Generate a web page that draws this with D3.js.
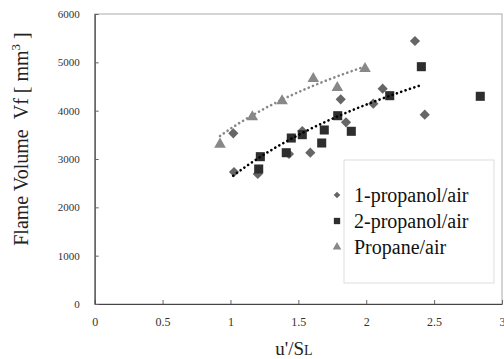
<!DOCTYPE html>
<html><head><meta charset="utf-8">
<script src="https://cdn.jsdelivr.net/npm/d3@7"></script>
<style>body{margin:0;background:#fff}svg{display:block}
svg text{font-family:"Liberation Serif","DejaVu Serif","Times New Roman",serif !important;}</style>
</head><body>
<svg id="c" width="504" height="359"></svg>
<script>
// Data
const propanol1X = [2.359, 2.121, 1.812, 2.052, 2.431, 1.851, 1.529, 1.021, 1.588, 1.431, 1.026, 1.201];
const propanol1Y = [5441, 4455, 4235, 4144, 3917, 3759, 3579, 3532, 3131, 3103, 2731, 2690];
const propanol2X = [2.406, 2.840, 2.173, 1.790, 1.691, 1.890, 1.448, 1.529, 1.672, 1.411, 1.220, 1.208];
const propanol2Y = [4910, 4297, 4310, 3896, 3600, 3573, 3434, 3503, 3331, 3130, 3048, 2793];
const propaneX = [1.991, 1.610, 1.787, 1.380, 1.161, 0.923];
const propaneY = [4889, 4682, 4496, 4221, 3890, 3325];
// logarithmic trend lines y = a + b ln(x), over [xmin, xmax]
const propanolTrend = [2610, 2186, 1.02, 2.41];
const propaneTrend = [3625, 1870, 0.923, 1.98];
const xTicks = [0, 0.5, 1, 1.5, 2, 2.5, 3];
const xTickLabels = ["0", "0.5", "1", "1.5", "2", "2.5", "3"];
const yTicks = [0, 1000, 2000, 3000, 4000, 5000, 6000];
const legendLabels = ["1-propanol/air", "2-propanol/air", "Propane/air"];

const svg = d3.select("#c");
const x = d3.scaleLinear().domain([0, 3]).range([94.7, 502]);
const y = d3.scaleLinear().domain([0, 6000]).range([304, 14]);

// frame
svg.append("rect").attr("x", x(0)).attr("y", y(6000))
  .attr("width", x(3) - x(0)).attr("height", y(0) - y(6000))
  .attr("fill", "none").attr("stroke", "#aaa").attr("stroke-width", 1);

// axes
const gx = svg.append("g").attr("transform", `translate(0,${y(0)})`)
  .call(d3.axisBottom(x).tickValues(xTicks).tickFormat((d, i) => xTickLabels[i]).tickSizeInner(-4).tickSizeOuter(0).tickPadding(13));
const gy = svg.append("g").attr("transform", `translate(${x(0)},0)`)
  .call(d3.axisLeft(y).tickValues(yTicks).tickFormat(d3.format("d")).tickSizeInner(-4).tickSizeOuter(0).tickPadding(15));
[gx, gy].forEach(g => {
  g.attr("font-family", null);
  g.select(".domain").attr("stroke", "#444").attr("stroke-width", 1.2);
  g.selectAll(".tick line").attr("stroke", "#666");
  g.selectAll("text").attr("font-size", 11).attr("fill", "#333");
});
gx.selectAll("text").attr("font-size", 12);

// trend lines
function trend(p) {
  const xs = d3.range(0, 41).map(i => p[2] + (p[3] - p[2]) * i / 40);
  return xs.map(v => [v, p[0] + p[1] * Math.log(v)]);
}
const line = d3.line().x(d => x(d[0])).y(d => y(d[1])).curve(d3.curveMonotoneX);
svg.append("path").attr("d", line(trend(propaneTrend)))
  .attr("fill", "none").attr("stroke", "#888").attr("stroke-width", 2.6)
  .attr("stroke-dasharray", "0.1 4.5").attr("stroke-linecap", "round");

// markers
const diamond = d3.symbol().type(d3.symbolSquare).size(52);
const square = d3.symbol().type(d3.symbolSquare).size(82);
const tri = d3.symbol().type(d3.symbolTriangle).size(58);

svg.append("g").selectAll("path").data(propaneX.map((v, i) => [v, propaneY[i]])).join("path")
  .attr("d", tri).attr("fill", "#888")
  .attr("transform", d => `translate(${x(d[0])},${y(d[1]) + 1})`);
svg.append("g").selectAll("path").data(propanol1X.map((v, i) => [v, propanol1Y[i]])).join("path")
  .attr("d", diamond).attr("fill", "#666")
  .attr("transform", d => `translate(${x(d[0])},${y(d[1])}) rotate(45)`);
svg.append("g").selectAll("path").data(propanol2X.map((v, i) => [v, propanol2Y[i]])).join("path")
  .attr("d", square).attr("fill", "#2e2e2e")
  .attr("transform", d => `translate(${x(d[0])},${y(d[1])})`);

svg.append("path").attr("d", line(trend(propanolTrend)))
  .attr("fill", "none").attr("stroke", "#000").attr("stroke-width", 2.6)
  .attr("stroke-dasharray", "0.1 4.5").attr("stroke-linecap", "round");

// legend
svg.append("rect").attr("x", 344).attr("y", 160).attr("width", 150).attr("height", 123)
  .attr("fill", "#fff").attr("stroke", "#ddd");
const legendShapes = [
  d3.symbol().type(d3.symbolSquare).size(22),
  d3.symbol().type(d3.symbolSquare).size(40),
  d3.symbol().type(d3.symbolTriangle).size(32)
];
const legendFill = ["#666", "#2e2e2e", "#888"];
const legendRot = [45, 0, 0];
legendLabels.forEach((t, i) => {
  const cy = 195 + i * 26;
  svg.append("path").attr("d", legendShapes[i]).attr("fill", legendFill[i])
    .attr("transform", `translate(337,${cy}) rotate(${legendRot[i]})`);
  svg.append("text").attr("x", 354).attr("y", cy + 7).text(t)
    .attr("font-size", 20).attr("fill", "#111");
});

// axis titles
const yl = svg.append("text").attr("transform", "translate(28,139) rotate(-90)")
  .attr("text-anchor", "middle").attr("font-size", 20).attr("fill", "#222");
yl.append("tspan").text("Flame Volume\u00a0\u00a0Vf [ mm");
yl.append("tspan").attr("font-size", 13).attr("dy", -8).text("3");
yl.append("tspan").attr("dy", 8).text(" ]");

const xl = svg.append("text").attr("x", 294).attr("y", 355)
  .attr("text-anchor", "middle").attr("font-size", 19).attr("fill", "#222");
xl.append("tspan").text("u'/S");
xl.append("tspan").attr("font-size", 14).text("L");
</script>
</body></html>
